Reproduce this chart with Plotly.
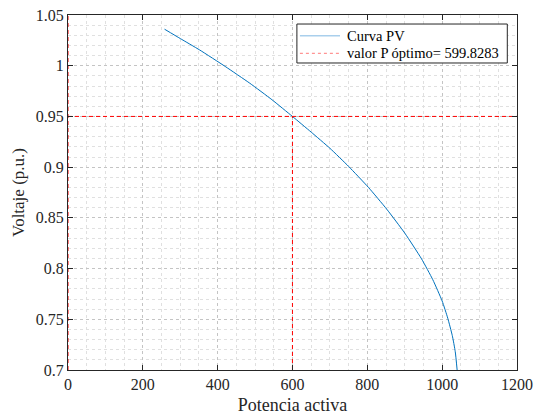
import plotly.graph_objects as go

# PV (nose) curve: active power vs. bus voltage
potencia = [258, 300, 352, 420, 486, 545, 599.8283, 650, 700, 750, 803, 852,
            900, 945, 975, 1000, 1015, 1027, 1035, 1040]
voltaje = [1.036, 1.0268, 1.0155, 0.9993, 0.9827, 0.9665, 0.95, 0.9345, 0.9186,
           0.9007, 0.880, 0.8585, 0.835, 0.8095, 0.789, 0.768, 0.751, 0.734,
           0.718, 0.700]

p_optimo = 599.8283
v_limite = 0.95

x_range = [0, 1200]
y_range = [0.7, 1.05]
x_ticks = [0, 200, 400, 600, 800, 1000, 1200]
y_ticks = [0.7, 0.75, 0.8, 0.85, 0.9, 0.95, 1.0, 1.05]
y_ticktext = ["0.7", "0.75", "0.8", "0.85", "0.9", "0.95", "1", "1.05"]

nombres = ["Curva PV", f"valor P óptimo= {p_optimo}"]

FONT = "Liberation Serif, Times New Roman, serif"
AZUL = "#0072BD"
ROJO = "#FF0000"
EJE = "#262626"

fig = go.Figure()

fig.add_trace(go.Scatter(
    x=potencia, y=voltaje, mode="lines", name=nombres[0],
    line=dict(color=AZUL, width=1, shape="spline", smoothing=0.5),
    showlegend=False,
))

# Voltage limit reference lines (horizontal at 0.95, vertical at optimum P, and along P=0)
fig.add_trace(go.Scatter(
    x=[x_range[0], x_range[1], None, p_optimo, p_optimo, None, x_range[0], x_range[0]],
    y=[v_limite, v_limite, None, y_range[0], v_limite, None, y_range[0], y_range[1]],
    mode="lines", name=nombres[1],
    line=dict(color=ROJO, width=1, dash="4px,3px"),
    showlegend=False,
))

axis_common = dict(
    showline=True, linecolor=EJE, linewidth=1, mirror="allticks",
    ticks="inside", ticklen=5, tickcolor=EJE, tickwidth=1,
    showgrid=True, gridcolor="#C4C4C4", gridwidth=1, griddash="dot",
    zeroline=False, automargin=False,
    tickfont=dict(family=FONT, size=16, color=EJE),
)

fig.update_xaxes(
    range=x_range, tickvals=x_ticks,
    title=dict(text="Potencia activa", font=dict(family=FONT, size=18, color=EJE),
               standoff=6),
    minor=dict(dtick=50, showgrid=True, gridcolor="#E0E0E0", griddash="dot", ticks=""),
    **axis_common,
)
fig.update_yaxes(
    range=y_range, tickvals=y_ticks, ticktext=y_ticktext,
    title=dict(text="Voltaje (p.u.)", font=dict(family=FONT, size=17, color=EJE),
               standoff=6),
    minor=dict(dtick=0.01, showgrid=True, gridcolor="#E0E0E0", griddash="dot", ticks=""),
    **axis_common,
)

# Legend box drawn in paper coordinates
caja = dict(x0=0.5098, x1=0.9784, y0=0.8648, y1=0.9746)
muestra_x = [0.5165, 0.6058]
filas_y = [0.9417, 0.8921]
estilos = [dict(color="#A9CFEC", width=1.5), dict(color="#FF7A7A", width=1, dash="dot")]

fig.add_shape(type="rect", xref="paper", yref="paper", **caja,
              line=dict(color=EJE, width=1), fillcolor="white", layer="above")
for fila, estilo, nombre in zip(filas_y, estilos, nombres):
    fig.add_shape(type="line", xref="paper", yref="paper",
                  x0=muestra_x[0], x1=muestra_x[1], y0=fila, y1=fila,
                  line=estilo, layer="above")
    fig.add_annotation(xref="paper", yref="paper", x=0.617, y=fila,
                       text=nombre, showarrow=False, xanchor="left", yanchor="middle",
                       font=dict(family=FONT, size=14.5, color="#000000"))

fig.update_layout(
    width=534, height=418,
    margin=dict(l=68, r=17, t=15, b=48),
    paper_bgcolor="white", plot_bgcolor="white",
    font=dict(family=FONT, color=EJE),
    showlegend=False,
)

fig.write_html("out.html")
